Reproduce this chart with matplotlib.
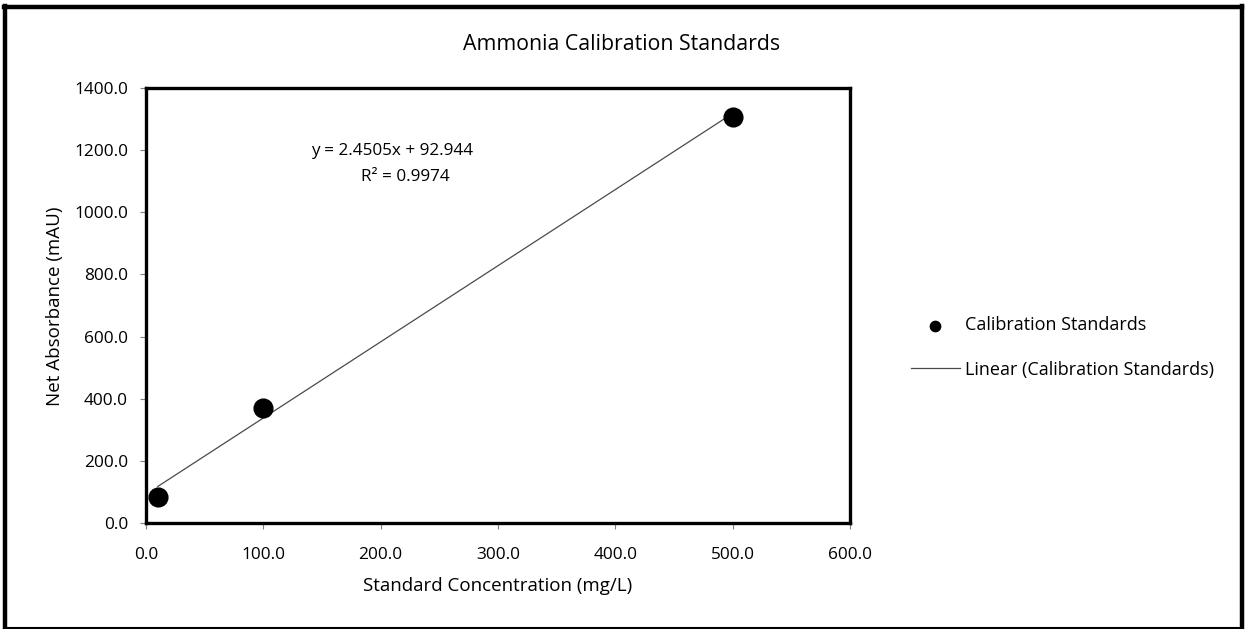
import matplotlib
matplotlib.use("Agg")
import matplotlib.pyplot as plt
from matplotlib.lines import Line2D
import numpy as np

plt.rcParams['font.family'] = ['Open Sans', 'DejaVu Sans']

# Data
conc = [10.0, 100.0, 500.0]
absorb = [85.0, 370.0, 1307.0]
slope = 2.4505
intercept = 92.944
r2 = 0.9974
title = "Ammonia Calibration Standards"
xlabel = "Standard Concentration (mg/L)"
ylabel = "Net Absorbance (mAU)"
xticks = [0, 100, 200, 300, 400, 500, 600]
yticks = [0, 200, 400, 600, 800, 1000, 1200, 1400]

W, H = 1245, 629
fig = plt.figure(figsize=(W / 100, H / 100), dpi=100)
ax = fig.add_axes([146 / W, 1 - 523 / H, (850 - 146) / W, (523 - 88) / H])

ax.scatter(conc, absorb, s=13.5**2, color='black', zorder=3, label='Calibration Standards')
xf = np.array([min(conc), max(conc)])
ax.plot(xf, slope * xf + intercept, color='#4a4a4a', lw=0.9, label='Linear (Calibration Standards)')

ax.set_xlim(0, 600)
ax.set_ylim(0, 1400)
ax.set_xticks(xticks)
ax.set_yticks(yticks)
ax.set_xticklabels([f"{v:.1f}" for v in xticks], fontsize=12.4)
ax.set_yticklabels([f"{v:.1f}" for v in yticks], fontsize=12.4)
ax.tick_params(direction='out', length=4, width=0.8, color='#808080')
ax.tick_params(axis='y', pad=9)
ax.tick_params(axis='x', pad=13.5)
for s in ax.spines.values():
    s.set_linewidth(2.4)
    s.set_color('black')

fig.text(498 / W, 1 - 586 / H, xlabel, ha='center', va='center', fontsize=13.5)
fig.text(55 / W, 1 - 306 / H, ylabel, ha='center', va='center', fontsize=13.5, rotation=90)
fig.text(622 / W, 1 - 44 / H, title, ha='center', va='center', fontsize=15.3)

ax.text((392 - 146) / 704 * 600, (523 - 151) / 435 * 1400, f"y = {slope}x + {intercept}",
        ha='center', va='center', fontsize=12.3)
ax.text((405 - 146) / 704 * 600, (523 - 177) / 435 * 1400, f"R² = {r2}",
        ha='center', va='center', fontsize=12.3)

leg = fig.legend(loc='center left', bbox_to_anchor=(911 / W, 1 - 347.5 / H), frameon=False,
                 fontsize=13, handlelength=2.7, handletextpad=0.3, labelspacing=1.45,
                 markerscale=0.55, borderpad=0, borderaxespad=0)

# outer border
for (x0, y0, x1, y1, lw) in [(4, 6.5, 1242, 6.5, 3.2), (5.5, 6, 5.5, 629, 3.2),
                             (1241.5, 6, 1241.5, 629, 3.2), (4, 628, 1242, 628, 1.5)]:
    fig.add_artist(Line2D([x0 / W, x1 / W], [1 - y0 / H, 1 - y1 / H], color='black', lw=lw,
                          transform=fig.transFigure))

fig.savefig('out.png', dpi=100)
